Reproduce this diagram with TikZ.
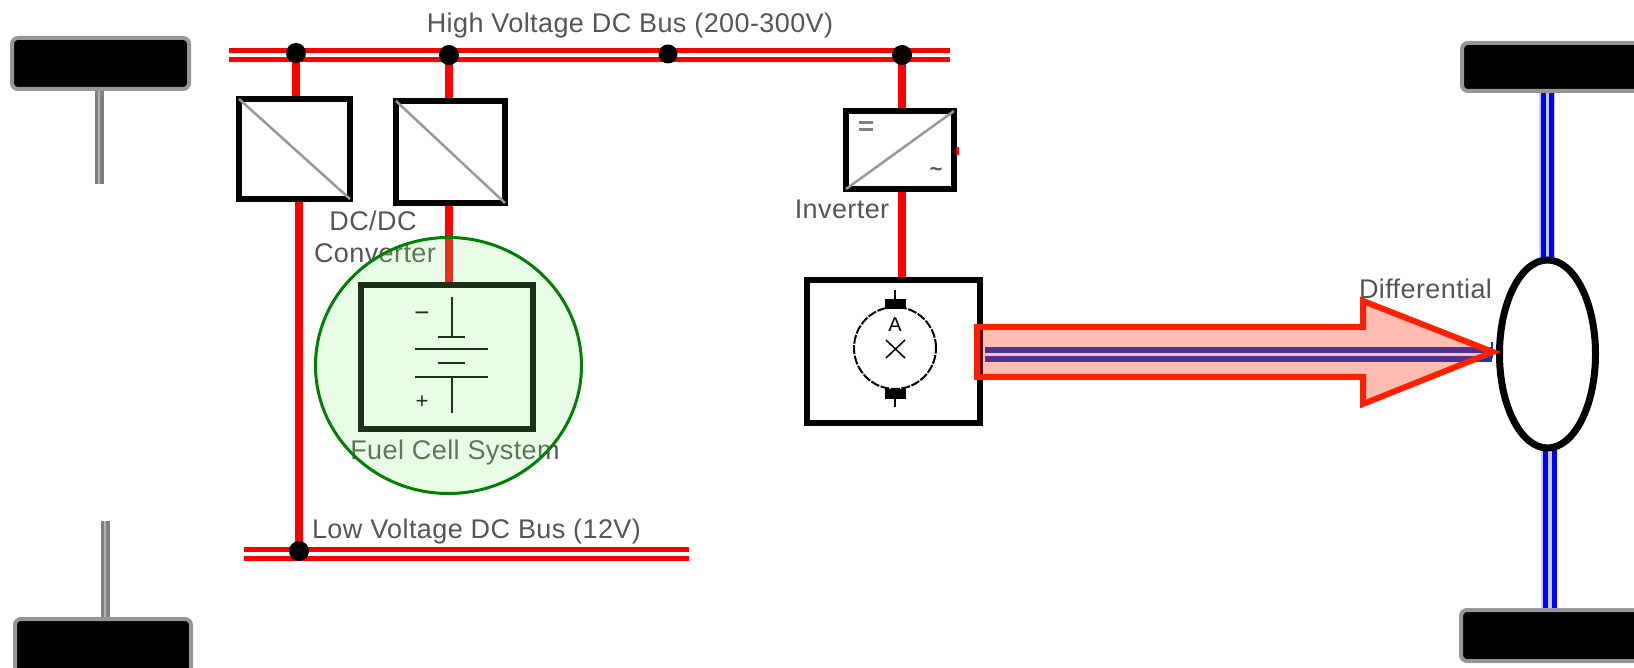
\documentclass[tikz,border=0pt]{standalone}
\usepackage{fontspec}
\usetikzlibrary{shapes.geometric}
\setmainfont{Liberation Sans}
\definecolor{busred}{RGB}{255,0,0}
\definecolor{axleblue}{RGB}{0,0,255}
\definecolor{shaftblue}{RGB}{0,58,207}
\definecolor{labelgrey}{RGB}{85,85,85}
\definecolor{arrowred}{RGB}{255,32,0}
\definecolor{wheelgrey}{RGB}{150,150,150}
\definecolor{halogreen}{RGB}{140,240,140}
\definecolor{ringgreen}{RGB}{0,128,0}
\tikzset{
  x=1pt,y=-1pt,
  wheelbox/.style={draw=wheelgrey,fill=black,line width=4pt,rounded corners=6pt},
  conv/.style={draw=black,fill=white,line width=6pt},
  wirethick/.style={draw=busred,line width=8pt},
  railline/.style={draw=busred,line width=5pt},
  axlegrey/.style={draw=gray,line width=9pt},
  axlecore/.style={draw=gray!60,line width=2pt},
  axlebl/.style={draw=axleblue,line width=5pt},
  axlehalo/.style={draw=axleblue!22,line width=16pt},
  junction/.style={circle,fill=black,minimum size=20pt,inner sep=0pt},
  lbl/.style={text=labelgrey,font=\fontsize{27}{30}\selectfont\addfontfeature{LetterSpace=1.5},inner sep=0pt},
  diagline/.style={draw=gray!80,line width=2.5pt},
  sym/.style={draw=black,line width=2pt},
}
\begin{document}
\begin{tikzpicture}
\useasboundingbox (0,0) rectangle (1634,668);
% wheels
\draw[axlegrey] (99,88) -- (99,184);
\draw[axlecore] (99,88) -- (99,184);
\draw[axlegrey] (105,521) -- (105,620);
\draw[axlecore] (105,521) -- (105,620);
\draw[wheelbox] (12,38) rectangle (189,89);
\draw[wheelbox] (15,619) rectangle (191,690);
% rear axle
\draw[axlehalo] (1547,90) -- (1547,260);
\draw[axlehalo] (1549,450) -- (1549,610);
\foreach \xa in {1543,1551}{\draw[axlebl] (\xa,90) -- (\xa,260);}
\foreach \xa in {1545,1554}{\draw[axlebl] (\xa,450) -- (\xa,610);}
\draw[wheelbox] (1462,43) rectangle (1650,91);
\draw[wheelbox] (1461,610) rectangle (1650,661);
% buses
\draw[railline] (229,50.5) -- (950,50.5);
\draw[railline] (229,59.5) -- (950,59.5);
\draw[railline] (244,549) -- (689,549);
\draw[railline] (244,558) -- (689,558);
% wires
\coordinate (hvA) at (296,53); \coordinate (hvB) at (449,55);
\coordinate (hvC) at (668,54); \coordinate (hvD) at (902,55);
\coordinate (lvA) at (299,551);
\node[conv,minimum width=111pt,minimum height=100pt,inner sep=0pt] (dcA) at (294.5,149) {};
\node[conv,minimum width=109pt,minimum height=102pt,inner sep=0pt] (dcB) at (450.5,152) {};
\node[conv,minimum width=108pt,minimum height=78pt,inner sep=0pt] (inv) at (900,150) {};
\node[conv,minimum width=173pt,minimum height=143pt,inner sep=0pt] (motor) at (893.5,351.5) {};
\node[conv,minimum width=172pt,minimum height=144pt,inner sep=0pt] (fuel) at (447,357) {};
\draw[wirethick] (hvA) -- (dcA.north -| hvA);
\draw[wirethick] (dcA.south -| lvA) -- (lvA);
\draw[wirethick] (hvB) -- (dcB.north -| hvB);
\draw[wirethick] (dcB.south -| hvB) -- (fuel.north -| hvB);
\draw[wirethick] (hvD) -- (inv.north -| hvD);
\draw[wirethick] (inv.south -| hvD) -- (motor.north -| hvD);
\node[junction] at (hvA) {};
\node[junction] at (hvB) {};
\node[junction,minimum size=19pt] at (hvC) {};
\node[junction] at (hvD) {};
\node[junction] at (lvA) {};
% converter glyphs
\draw[diagline] ([shift={(3,3)}]dcA.north west) -- ([shift={(-3,-3)}]dcA.south east);
\draw[diagline] ([shift={(3,3)}]dcB.north west) -- ([shift={(-3,-3)}]dcB.south east);
\draw[diagline] ([shift={(3,-3)}]inv.south west) -- ([shift={(-3,3)}]inv.north east);
\draw[line width=3pt,draw=gray] (859,123) -- (873,123) (859,129.5) -- (873,129.5);
\node[text=labelgrey,font=\fontsize{22}{22}\selectfont\bfseries,inner sep=0pt] (acmark) at (936,172) {\textasciitilde};
\draw[draw=busred,line width=3pt] (957,147) -- (957,155);
% battery
\draw[sym] (452,297) -- (452,337) (438,337) -- (465,337) (415,349) -- (488,349)
  (438,363) -- (465,363) (415,377) -- (488,377) (452,377) -- (452,413);
\node[font=\fontsize{26}{26}\selectfont,inner sep=0pt] at (422,317) {\textminus};
\node[font=\fontsize{22}{22}\selectfont,inner sep=0pt] at (422,402) {+};
% motor
\node[circle,draw=black,dash pattern=on 9pt off 1.5pt,line width=2pt,minimum size=82pt,inner sep=0pt] (arm) at (895,348) {};
\fill (885,299) rectangle (906,309);
\fill (885,389) rectangle (906,399);
\draw[line width=1.5pt] (895,290) -- (895,299) (895,399) -- (895,407);
\node[font=\fontsize{20}{20}\selectfont,inner sep=0pt] at (895,325) {A};
\draw[line width=1.5pt] (886,340) -- (905,358) (905,340) -- (886,358);
% shaft
\draw[draw=shaftblue,line width=5.5pt] (985,350) -- (1492,350);
\draw[draw=shaftblue,line width=5.5pt] (985,359) -- (1492,359);
\draw[draw=shaftblue,line width=2pt] (1492,342) -- (1492,358);
% differential
\node[ellipse,draw=black,fill=white,line width=7pt,minimum width=96pt,minimum height=188pt,inner sep=0pt] (diff) at (1547.5,354) {};
% labels
\node[lbl] at (630,26) {High Voltage DC Bus (200-300V)};
\node[lbl] at (476.5,532) {Low Voltage DC Bus (12V)};
\node[lbl] at (373,221) {DC/DC};
\node[lbl] at (375,253) {Converter};
\node[lbl] at (842,209) {Inverter};
\node[lbl] at (1425.5,289) {Differential};
\node[lbl] at (455,453) {Fuel Cell System};
% highlights
\node[ellipse,draw=ringgreen,fill=halogreen,fill opacity=0.2,draw opacity=1,line width=3pt,minimum width=266pt,minimum height=256pt,inner sep=0pt] (halo) at (448.5,365.5) {};
\draw[draw=arrowred,fill=arrowred,fill opacity=0.3,draw opacity=1,line width=6pt,miter limit=10]
  (977,327) -- (1363,327) -- (1363,301) -- (1493,352) -- (1363,404) -- (1363,377) -- (977,377) -- cycle;
\end{tikzpicture}
\end{document}
